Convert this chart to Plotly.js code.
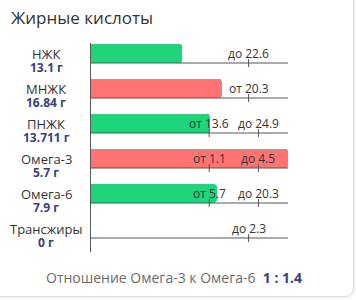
<!DOCTYPE html>
<html><head><meta charset="utf-8">
<script src="https://cdn.plot.ly/plotly-3.0.1.min.js"></script>
<style>
html,body{margin:0;padding:0;background:#fff;width:356px;height:300px;overflow:hidden;}
#card{position:absolute;left:-12px;top:-12px;width:364px;height:307px;background:#fff;border:1px solid #dcdcdc;border-radius:9px;box-shadow:0 0 4px rgba(0,0,0,0.12);}
#chart{position:absolute;left:0;top:0;width:356px;height:300px;}
</style></head>
<body>
<div id="card"></div>
<div id="chart"></div>
<script>
const names = ['НЖК','МНЖК','ПНЖК','Омега-3','Омега-6','Трансжиры'];
const values = [13.1, 16.84, 13.711, 5.7, 7.9, 0];
const valueLabels = ['13.1 г','16.84 г','13.711 г','5.7 г','7.9 г','0 г'];
const mins = [null, 20.3, 13.6, 1.1, 5.7, null];
const maxs = [22.6, null, 24.9, 4.5, 20.3, 2.3];
const ratioLabel = 'Отношение Омега-3 к Омега-6';
const ratioValue = '1 : 1.4';

const GREEN = '#1fd47b', RED = '#ff7373', LINE = '#555', DARK = '#333', BLUE = '#37427a';
const ROWPX = 35;             // pixels per row unit
const u = px => px / ROWPX;   // pixel offset -> y units

function scalePos(v, mn, mx) {
  if (mn != null && mx != null) {
    if (v <= mn) return 0.6 * v / mn;
    if (v <= mx) return 0.6 + 0.25 * (v - mn) / (mx - mn);
    return 1;
  }
  const ref = mn != null ? mn : mx;
  return Math.min(1, 0.8 * v / ref);
}
function tickPos(t, mn, mx) {
  if (mn != null && mx != null) return t === mn ? 0.6 : 0.85;
  return 0.8;
}

const rows = names.map((_, i) => i);
const xs = values.map((v, i) => scalePos(v, mins[i], maxs[i]));
const cols = values.map((v, i) => {
  const lo = mins[i] != null && v < mins[i];
  const hi = maxs[i] != null && v > maxs[i];
  return (lo || hi) ? RED : GREEN;
});

const shapes = [];
const annotations = [];
rows.forEach(i => {
  const yl = i + u(9.5);
  shapes.push({type:'line', xref:'x', yref:'y', x0:0, x1:1, y0:yl, y1:yl, line:{color:LINE, width:1}});
  const ticks = [];
  if (mins[i] != null) ticks.push(['от ' + mins[i], tickPos(mins[i], mins[i], maxs[i])]);
  if (maxs[i] != null) ticks.push(['до ' + maxs[i], tickPos(maxs[i], mins[i], maxs[i])]);
  ticks.forEach(([lab, p]) => {
    shapes.push({type:'line', xref:'x', yref:'y', x0:p, x1:p, y0:yl - u(4), y1:yl + u(4), line:{color:LINE, width:1}});
    annotations.push({xref:'x', yref:'y', x:p, y:i, text:lab, showarrow:false, xanchor:'center', yanchor:'middle',
      font:{family:'Open Sans', size:12, color:DARK}});
  });
  annotations.push({xref:'paper', yref:'y', x:(46 - 91) / 197, y:i + u(0.5), text:names[i], showarrow:false,
    xanchor:'center', yanchor:'middle', borderpad:0, font:{family:'Open Sans', size:13, color:DARK}});
  annotations.push({xref:'paper', yref:'y', x:(46 - 91) / 197, y:i + u(14), text:'<b>' + valueLabels[i] + '</b>', showarrow:false,
    xanchor:'center', yanchor:'middle', borderpad:0, font:{family:'Open Sans', size:12, color:BLUE}});
});
annotations.push({xref:'paper', yref:'paper', x:(174 - 91) / 197, y:(252 - 277) / 209,
  text: ratioLabel + '  <span style="color:' + BLUE + '"><b>' + ratioValue + '</b></span>',
  showarrow:false, xanchor:'center', yanchor:'middle', font:{family:'Open Sans', size:14, color:'#6b6b6b'}});

const trace = {type:'bar', orientation:'h', y:rows, x:xs, width:u(19),
  marker:{color:cols, cornerradius:3, line:{width:0}}, hoverinfo:'none'};

const layout = {
  width:356, height:300,
  margin:{l:91, r:68, t:43, b:48},
  paper_bgcolor:'rgba(0,0,0,0)', plot_bgcolor:'rgba(0,0,0,0)',
  title:{text:'Жирные кислоты', x:11/356, xanchor:'left', xref:'container', y:1 - 18/300, yanchor:'middle', yref:'container',
    font:{family:'Open Sans', size:17, color:DARK}},
  xaxis:{range:[0,1], showgrid:false, zeroline:false, showticklabels:false, showline:false, fixedrange:true},
  yaxis:{range:[5 + u(198.5 - 175), -u(10.5)], showgrid:false, zeroline:false, showticklabels:false,
    showline:true, linecolor:LINE, linewidth:1, ticks:'', fixedrange:true},
  shapes:shapes, annotations:annotations, showlegend:false, bargap:0
};
Plotly.newPlot('chart', [trace], layout, {staticPlot:true, displayModeBar:false});
</script>
</body></html>
